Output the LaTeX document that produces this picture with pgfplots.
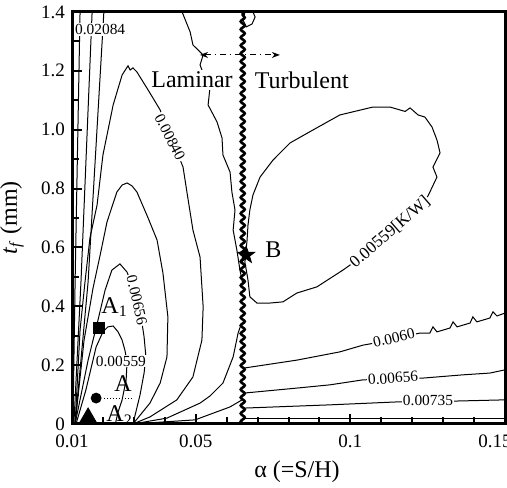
\documentclass[border=0pt]{standalone}
\usepackage{fontspec}
\setmainfont{Liberation Serif}
\usepackage{pgfplots}
\pgfplotsset{compat=1.18}
\usetikzlibrary{decorations.pathmorphing,arrows.meta}

\tikzset{
  cont/.style={black, line width=0.5pt},
  lbl/.style={font=\fontsize{7.7}{9}\selectfont, fill=white, inner sep=0.6pt},
  big/.style={font=\fontsize{12}{14}\selectfont, inner sep=0pt},
}

% filled five-pointed star
\pgfdeclareplotmark{fstar}{%
  \pgfpathmoveto{\pgfpointpolar{90}{\pgfplotmarksize}}%
  \pgfpathlineto{\pgfpointpolar{126}{0.4\pgfplotmarksize}}%
  \pgfpathlineto{\pgfpointpolar{162}{\pgfplotmarksize}}%
  \pgfpathlineto{\pgfpointpolar{198}{0.4\pgfplotmarksize}}%
  \pgfpathlineto{\pgfpointpolar{234}{\pgfplotmarksize}}%
  \pgfpathlineto{\pgfpointpolar{270}{0.4\pgfplotmarksize}}%
  \pgfpathlineto{\pgfpointpolar{306}{\pgfplotmarksize}}%
  \pgfpathlineto{\pgfpointpolar{342}{0.4\pgfplotmarksize}}%
  \pgfpathlineto{\pgfpointpolar{18}{\pgfplotmarksize}}%
  \pgfpathlineto{\pgfpointpolar{54}{0.4\pgfplotmarksize}}%
  \pgfpathclose\pgfusepathqfillstroke}

\begin{document}
\begin{tikzpicture}
\begin{axis}[
  scale only axis, width=216.5pt, height=206pt,
  xmin=0.01, xmax=0.15, ymin=0, ymax=1.4,
  xtick={0.01,0.05,0.1}, xticklabels={0.01,0.05,0.1},
  extra x ticks={0.15}, extra x tick labels={0.15},
  extra x tick style={xticklabel style={xshift=-5pt}},
  minor xtick={0.02,0.03,0.04,0.06,0.07,0.08,0.09,0.11,0.12,0.13,0.14},
  ytick={0,0.2,0.4,0.6,0.8,1.0,1.2,1.4},
  yticklabels={0,0.2,0.4,0.6,0.8,1.0,1.2,1.4},
  minor ytick={0.1,0.3,0.5,0.7,0.9,1.1,1.3},
  tick align=inside, xtick pos=bottom, ytick pos=left,
  major tick length=5pt, minor tick length=3.5pt,
  every tick/.append style={black, line width=1pt},
  tick label style={font=\fontsize{9.5}{11}\selectfont},
  xticklabel style={yshift=-2pt},
  axis line style={line width=1.5pt},
  xlabel={α (=S/H)},
  ylabel={\textit{t}\textsubscript{\textit{f}} (mm)},
  label style={font=\fontsize{12}{14}\selectfont},
  xlabel style={at={(rel axis cs:0.5196,-0.1165)}, anchor=center},
  ylabel style={at={(rel axis cs:-0.1386,0.5)}, anchor=center},
  clip=false,
]

% --- laminar side: lines fanning from the origin
\addplot[cont, no marks] coordinates {(0.0103,0) (0.0110,0.483) (0.0126,1.4)};
\addplot[cont, no marks] coordinates {(0.0106,0) (0.0129,0.483) (0.0165,1.4)};
\addplot[cont, no marks] coordinates {(0.0110,0) (0.0152,0.483) (0.0203,1.4)};

% arch 0.00840
\addplot[cont, no marks] coordinates {
  (0.0110,0) (0.0126,0.319) (0.0142,0.483) (0.0158,0.632) (0.0181,0.744)
  (0.0200,0.914) (0.0233,1.084) (0.0262,1.186) (0.0281,1.217) (0.0288,1.203)
  (0.0297,1.210) (0.0310,1.196) (0.0346,1.135) (0.0385,1.067) (0.0417,0.982)
  (0.0459,0.873) (0.0472,0.785) (0.0491,0.659) (0.0514,0.567) (0.0524,0.398)
  (0.0520,0.285) (0.0491,0.160) (0.0439,0.082) (0.0352,0.024) (0.0297,0)};
% arch
\addplot[cont, no marks] coordinates {
  (0.0110,0) (0.0139,0.285) (0.0168,0.462) (0.0191,0.574) (0.0213,0.686)
  (0.0245,0.788) (0.0262,0.812) (0.0278,0.819) (0.0294,0.809) (0.0310,0.788)
  (0.0346,0.700) (0.0375,0.625) (0.0394,0.513) (0.0410,0.364) (0.0407,0.228)
  (0.0385,0.139) (0.0352,0.071) (0.0297,0)};
% arch 0.00656
\addplot[cont, no marks] coordinates {
  (0.0110,0) (0.0152,0.217) (0.0184,0.353) (0.0207,0.455) (0.0229,0.523)
  (0.0255,0.544) (0.0278,0.516) (0.0300,0.455) (0.0320,0.387) (0.0333,0.296)
  (0.0339,0.228) (0.0333,0.173) (0.0320,0.099) (0.0297,0)};
% arch 0.00559
\addplot[cont, no marks] coordinates {
  (0.0113,0) (0.0145,0.116) (0.0178,0.262) (0.0200,0.313) (0.0216,0.330)
  (0.0233,0.333) (0.0249,0.313) (0.0262,0.285) (0.0271,0.251) (0.0278,0.211)
  (0.0275,0.150) (0.0262,0.082) (0.0249,0.041) (0.0240,0)};
% lower fan towards the transition
\addplot[cont, no marks] coordinates {
  (0.0646,0.336) (0.0637,0.309) (0.0621,0.228) (0.0588,0.139) (0.0546,0.095)
  (0.0514,0.071) (0.0407,0.020) (0.0297,0)};
\addplot[cont, no marks] coordinates {(0.0650,0.082) (0.0611,0.058) (0.0498,0.014) (0.0297,0)};
% wiggly contour from the top
\addplot[cont, no marks] coordinates {
  (0.0456,1.400) (0.0482,1.332) (0.0491,1.288) (0.0524,1.254) (0.0514,1.220)
  (0.0530,1.176) (0.0546,1.142) (0.0540,1.084) (0.0569,1.026) (0.0585,0.972)
  (0.0588,0.914) (0.0611,0.856) (0.0617,0.788) (0.0627,0.727) (0.0621,0.659)
  (0.0633,0.591) (0.0643,0.523) (0.0653,0.472)};
\addplot[cont, no marks] coordinates {
  (0.0659,1.400) (0.0653,1.373) (0.0663,1.349) (0.0682,1.359) (0.0692,1.383) (0.0685,1.400)};

% --- turbulent side
% closed 0.00559 loop
\addplot[cont, no marks] coordinates {
  (0.0659,0.550) (0.0669,0.489) (0.0675,0.432) (0.0698,0.411) (0.0740,0.411)
  (0.0782,0.415) (0.0827,0.445) (0.0892,0.466) (0.0976,0.523) (0.1031,0.564)
  (0.1128,0.642) (0.1209,0.720) (0.1251,0.775) (0.1280,0.839) (0.1267,0.873)
  (0.1290,0.921) (0.1280,0.965) (0.1264,1.009) (0.1241,1.043) (0.1219,1.050)
  (0.1193,1.074) (0.1177,1.062) (0.1128,1.077) (0.1073,1.077) (0.0966,1.050)
  (0.0879,0.999) (0.0805,0.955) (0.0750,0.897) (0.0708,0.839) (0.0685,0.778)
  (0.0675,0.727) (0.0669,0.676) (0.0666,0.625) (0.0659,0.550)};
% 0.0060
\addplot[cont, no marks] coordinates {
  (0.0656,0.190) (0.0827,0.217) (0.0966,0.245) (0.1041,0.268) (0.1063,0.272)
  (0.1225,0.309) (0.1257,0.309) (0.1267,0.330) (0.1280,0.313) (0.1322,0.326)
  (0.1332,0.347) (0.1345,0.330) (0.1387,0.343) (0.1396,0.364) (0.1409,0.347)
  (0.1451,0.360) (0.1461,0.381) (0.1474,0.367) (0.1500,0.377)};
% 0.00656
\addplot[cont, no marks] coordinates {
  (0.0656,0.105) (0.0827,0.122) (0.0934,0.133) (0.1041,0.150) (0.1235,0.156)
  (0.1364,0.167) (0.1451,0.173) (0.1500,0.184)};
% 0.00735
\addplot[cont, no marks] coordinates {
  (0.0656,0.054) (0.0934,0.065) (0.1151,0.075) (0.1345,0.078) (0.1500,0.082)};
\addplot[cont, no marks] coordinates {(0.0656,0.020) (0.1500,0.020)};

% laminar / turbulent transition
\addplot[black, line width=1.3pt, no marks, decorate,
  decoration={snake, amplitude=1pt, segment length=4pt}]
  coordinates {(0.0652,0) (0.0652,1.4)};
\addplot[black, line width=0.5pt, no marks, dash dot, {Stealth[length=4pt,width=3pt]}-{Stealth[length=4pt,width=3pt]}]
  coordinates {(0.0514,1.254) (0.0772,1.254)};
\addplot[black, densely dotted, line width=0.5pt, no marks]
  coordinates {(0.0205,0.088) (0.0297,0.088)};

% --- design points
\addplot[only marks, mark=square*, mark size=2.75pt, black] coordinates {(0.0186,0.328)};
\addplot[only marks, mark=*, mark size=2.5pt, black] coordinates {(0.0178,0.088)};
\addplot[only marks, mark=triangle*, mark size=5.5pt, black] coordinates {(0.0152,0.017)};
\addplot[only marks, mark=fstar, mark size=4.5pt, black] coordinates {(0.0663,0.574)};

% --- text
\node[big, anchor=base west] at (axis cs:0.0194,0.377) {A\textsubscript{1}};
\node[big, anchor=base west] at (axis cs:0.0236,0.109) {A};
\node[big, anchor=base west] at (axis cs:0.0210,0.007) {A\textsubscript{2}};
\node[big, anchor=base west] at (axis cs:0.0724,0.567) {B};
\node[big, fill=white, inner sep=1pt] at (axis cs:0.0488,1.169) {Laminar};
\node[big, fill=white, inner sep=1pt] at (axis cs:0.0843,1.169) {Turbulent};

\node[lbl] at (axis cs:0.0191,1.339) {0.02084};
\node[lbl, rotate=-63] at (axis cs:0.0417,0.975) {0.00840};
\node[lbl, rotate=-77] at (axis cs:0.0310,0.421) {0.00656};
\node[lbl] at (axis cs:0.0258,0.214) {0.00559};
\node[lbl, rotate=41, font=\fontsize{8.5}{10}\selectfont] at (axis cs:0.1128,0.652) {0.00559[K/W]};
\node[lbl, rotate=13] at (axis cs:0.1141,0.292) {0.0060};
\node[lbl, rotate=4] at (axis cs:0.1138,0.156) {0.00656};
\node[lbl] at (axis cs:0.1251,0.080) {0.00735};

\coordinate (bl) at (rel axis cs:-0.1663,-0.1553);
\coordinate (tr) at (rel axis cs:1.0046,1.0291);
\end{axis}
\pgfresetboundingbox
\path (bl) rectangle (tr);
\end{tikzpicture}
\end{document}
